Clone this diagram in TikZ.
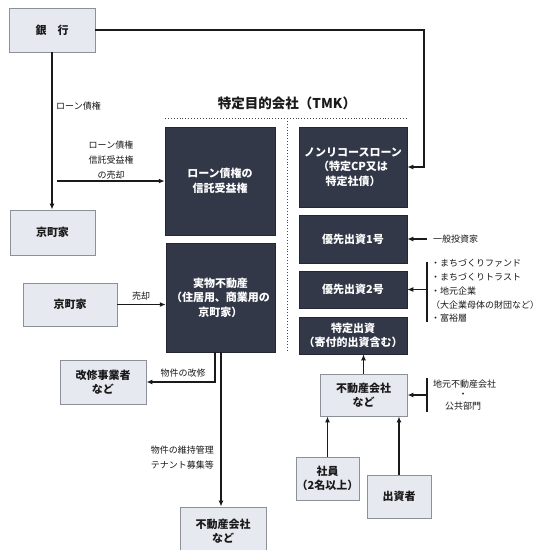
\documentclass[tikz,border=0pt]{standalone}
\usepackage{fontspec}
\setmainfont{Noto Sans CJK JP}
\usetikzlibrary{arrows.meta,calc}
\definecolor{lightfill}{HTML}{E6EAF0}
\definecolor{lightdraw}{HTML}{8C9099}
\definecolor{darkfill}{HTML}{323848}
\definecolor{ink}{HTML}{1A1A1A}
\begin{document}
\begin{tikzpicture}[x=1pt,y=-1pt,
  lbox/.style={draw=lightdraw,fill=lightfill,line width=0.9pt,align=center,font=\fontsize{11}{14}\selectfont\bfseries,text=ink,inner sep=0pt},
  dbox/.style={fill=darkfill,draw=darkfill!70!black,line width=0.5pt,align=center,font=\fontsize{11}{14.5}\selectfont\bfseries,text=white,inner sep=0pt},
  arr/.style={line width=1.3pt,draw=ink,-{Latex[length=6pt,width=5pt]}},
  ln/.style={line width=1.3pt,draw=ink},
  lab/.style={font=\fontsize{9}{15}\selectfont,text=ink,inner sep=0pt},
  dots/.style={line width=0.9pt,draw=ink!80,dotted}]
\useasboundingbox (0,0) rectangle (546,550);
\fill[white] (0,0) rectangle (546,550);
% left side
\node[lbox,minimum width=86pt,minimum height=44pt] (bank) at (52,30) {銀　行};
\node[lbox,minimum width=85pt,minimum height=45pt] (kyo1) at (52.5,232.5) {京町家};
\node[lbox,minimum width=94pt,minimum height=43pt] (kyo2) at (70,304.5) {京町家};
\node[lbox,minimum width=86pt,minimum height=44pt] (kaishu) at (103,382) {改修事業者\\など};
\node[lbox,minimum width=86pt,minimum height=48pt] (fud2) at (223,531) {不動産会社\\など};
% TMK
\node[font=\fontsize{13.5}{16}\selectfont\bfseries,text=ink,inner sep=0pt] (tmk) at (287,103) {特定目的会社（TMK）};
\coordinate (dl) at (165,118);
\coordinate (dr) at (407,118);
\coordinate (dm) at (287,118);
\coordinate (dmb) at (287,352);
\draw[dots] (dl) -- (dr);
\draw[dots] (dm) -- (dmb);
\node[dbox,minimum width=110pt,minimum height=108pt] (d1) at (220,181) {ローン債権の\\信託受益権};
\node[dbox,minimum width=109pt,minimum height=109pt] (d2) at (220.5,297.5) {実物不動産\\（住居用、商業用の\\京町家）};
\node[dbox,minimum width=108pt,minimum height=80pt] (r1) at (353,167) {ノンリコースローン\\（特定CP又は\\特定社債）};
\node[dbox,minimum width=108pt,minimum height=48pt] (r2) at (353,239) {優先出資1号};
\node[dbox,minimum width=108pt,minimum height=37pt] (r3) at (353,289.5) {優先出資2号};
\node[dbox,minimum width=108pt,minimum height=37pt] (r4) at (353,335.5) {特定出資\\（寄付的出資含む）};
% right lower
\node[lbox,minimum width=87pt,minimum height=42pt] (fud1) at (363.5,395) {不動産会社\\など};
\node[lbox,minimum width=63pt,minimum height=43pt] (shain) at (327.5,478.5) {社員\\（2名以上）};
\node[lbox,minimum width=64pt,minimum height=43pt] (shussi) at (399,496.5) {出資者};
% connectors
\coordinate (bR) at (424,0);
\draw[arr] (bank.east) -- (bank.east -| bR) |- (r1.east);
\draw[arr] (bank.south) -- (bank.south |- kyo1.north);
\node[lab,anchor=west] (l1) at (56,106) {ローン債権};
\coordinate (s1) at (57,181);
\draw[arr] (s1) -- (d1.west);
\node[lab,align=center] (l2) at (111,160) {ローン債権\\信託受益権\\の売却};
\draw[arr] (kyo2.east) -- (kyo2.east -| d2.west);
\node[lab] (l3) at (141,296) {売却};
\coordinate (k1) at (215,0);
\coordinate (k2) at (221,0);
\draw[arr] (d2.south -| k1) |- (kaishu.east);
\draw[arr] (d2.south -| k2) -- (fud2.north -| k2);
\node[lab] (l4) at (183,373) {物件の改修};
\node[lab,anchor=east,align=right] (l5) at (214,458) {物件の維持管理\\テナント募集等};
\coordinate (g1) at (427,239);
\draw[arr] (g1) -- (r2.east);
\node[lab,anchor=west] (l6) at (433,239) {一般投資家};
\coordinate (b3t) at (427,262);
\coordinate (b3b) at (427,322);
\draw[ln] (b3t) -- (b3b);
\draw[arr] (r3.east -| b3t) -- (r3.east);
\node[lab,anchor=west,align=left,font=\fontsize{9}{13.8}\selectfont] (l7) at (431,291) {・まちづくりファンド\\・まちづくりトラスト\\・地元企業\\（大企業母体の財団など）\\・富裕層};
\draw[arr] (fud1.north) -- (fud1.north |- r4.south);
\coordinate (b4t) at (427,378);
\coordinate (b4b) at (427,412);
\draw[ln] (b4t) -- (b4b);
\draw[arr] (fud1.east -| b4t) -- (fud1.east);
\node[lab,anchor=west] (l8) at (433,384) {地元不動産会社};
\node[lab] (l9) at (463,395) {・};
\node[lab] (l10) at (463,406) {公共部門};
\draw[arr] (shain.north) -- (shain.north |- fud1.south);
\draw[arr] (shussi.north) -- (shussi.north |- fud1.south);
\end{tikzpicture}
\end{document}
